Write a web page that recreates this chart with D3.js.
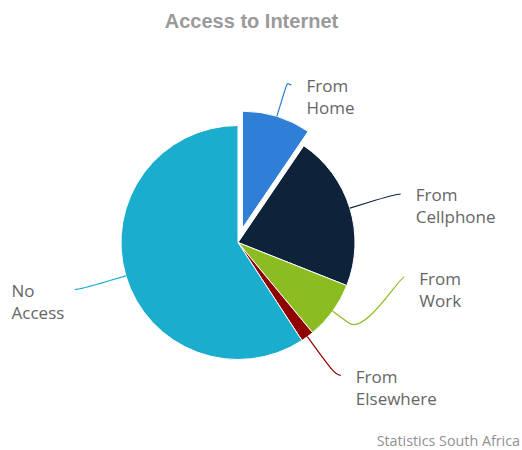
<!DOCTYPE html>
<html>
<head>
<meta charset="utf-8">
<script src="https://cdn.jsdelivr.net/npm/d3@7"></script>
<style>
  html, body { margin: 0; padding: 0; background: #fff; }
  svg { display: block; }
</style>
</head>
<body>
<div id="chart"></div>
<script>
// Household access to the internet, share of households (%)
const categories = ["From Home", "From Cellphone", "From Work", "From Elsewhere", "No Access"];
const shares = [9.5, 21.5, 8.0, 1.8, 59.2];
const sliceColors = ["#2f7ed8", "#0d233a", "#8bbc21", "#910000", "#1aadce"];
const explodedCategory = "From Home";

const chartTitle = "Access to Internet";
const creditText = "Statistics South Africa";

const width = 522, height = 450;
const cx = 238, cy = 242.5, radius = 117;
const labelDistance = 48;      // label ring beyond the pie edge
const connectorOffset = 20;    // elbow of the connector beyond the edge
const slicedOffset = 15;
const labelSlotHeight = 66.5;  // vertical slot used to keep labels apart

const svg = d3.select("#chart").append("svg")
  .attr("width", width).attr("height", height);

svg.append("text")
  .attr("x", 251.5).attr("y", 28)
  .attr("text-anchor", "middle")
  .style("font-family", "'Liberation Sans', Arial, sans-serif")
  .style("font-weight", "bold")
  .style("font-size", "20px")
  .style("fill", "#9a9a9a")
  .text(chartTitle);

const data = categories.map((name, i) => ({ name, value: shares[i], color: sliceColors[i] }));

const pie = d3.pie().sort(null).value(d => d.value);
const arc = d3.arc().innerRadius(0).outerRadius(radius);
const arcs = pie(data);

const g = svg.append("g").attr("transform", `translate(${cx},${cy})`);

arcs.forEach(a => {
  a.mid = (a.startAngle + a.endAngle) / 2;
  a.dir = [Math.sin(a.mid), -Math.cos(a.mid)];
  a.sliced = a.data.name === explodedCategory;
  a.shift = a.sliced ? [a.dir[0] * slicedOffset, a.dir[1] * slicedOffset] : [0, 0];
});

g.selectAll("path.slice")
  .data(arcs)
  .join("path")
  .attr("class", "slice")
  .attr("d", arc)
  .attr("transform", d => `translate(${d.shift[0]},${d.shift[1]})`)
  .attr("fill", d => d.data.color)
  .attr("stroke", "#fff")
  .attr("stroke-width", 1)
  .attr("stroke-linejoin", "round");

// ---- label placement: natural position on an outer ring, then slot-based de-overlap
const R = radius + labelDistance;
function getX(y, left) {
  const s = Math.max(-1, Math.min(1, (y - cy) / R));
  return cx + (left ? -1 : 1) * Math.cos(Math.asin(s)) * R;
}
arcs.forEach(a => {
  a.left = a.mid > Math.PI;
  a.naturalY = cy + a.dir[1] * R;
});

[0, 1].forEach(half => {
  const pts = arcs.filter(a => (a.left ? 1 : 0) === half);
  pts.sort((p, q) => half ? q.mid - p.mid : p.mid - q.mid);
  const slots = [];
  for (let pos = cy - R; pos <= cy + R; pos += labelSlotHeight) slots.push(pos);
  const n = slots.length, len = pts.length;
  const used = [];
  pts.forEach((p, j) => {
    let best = 9999, idx = 0;
    slots.forEach((s, k) => {
      if (s === null) return;
      const dd = Math.abs(s - p.naturalY);
      if (dd < best) { best = dd; idx = k; }
    });
    if (idx < j && slots[j] !== null) {
      idx = j;
    } else if (n < len - j + idx && slots[j] !== null) {
      idx = n - len + j;
      while (slots[idx] === null) idx++;
    } else {
      while (slots[idx] === null) idx++;
    }
    used.push({ i: idx, y: slots[idx] });
    slots[idx] = null;
  });
  used.sort((a, b) => b.y - a.y);
  pts.forEach(p => {
    const slot = used.pop();
    let y = slot.y;
    if ((p.naturalY > y && slots[slot.i + 1] !== null) ||
        (p.naturalY < y && slots[slot.i - 1] !== null)) {
      y = p.naturalY;
    }
    p.labelY = y;
    p.labelX = getX(slot.i === 0 || slot.i === n - 1 ? p.naturalY : y, p.left);
  });
});

// ---- connectors
const lg = svg.append("g");
arcs.forEach(a => {
  const ox = cx + a.shift[0], oy = cy + a.shift[1];
  const base = [ox + a.dir[0] * radius, oy + a.dir[1] * radius];
  const brk = [ox + a.dir[0] * (radius + connectorOffset), oy + a.dir[1] * (radius + connectorOffset)];
  const x = a.labelX, y = a.labelY;
  const p = d3.path();
  p.moveTo(x + (a.left ? -5 : 5), y);
  p.bezierCurveTo(x, y, 2 * brk[0] - base[0], 2 * brk[1] - base[1], brk[0], brk[1]);
  p.lineTo(base[0], base[1]);
  lg.append("path")
    .attr("d", p.toString())
    .attr("fill", "none")
    .attr("stroke", a.data.color)
    .attr("stroke-width", 1.2);
});

// ---- labels (two lines: first word, then the rest)
arcs.forEach(a => {
  const words = a.data.name.split(" ");
  const lines = [words[0], words.slice(1).join(" ")];
  const t = lg.append("text")
    .style("font-family", "'Open Sans', sans-serif")
    .style("font-size", "17px")
    .style("fill", "#666");
  lines.forEach((ln, k) => {
    t.append("tspan").attr("x", 0).attr("y", a.labelY + 7.5 + k * 22).text(ln);
  });
  const w = t.node().getBBox().width;
  const x0 = a.left ? a.labelX - 15.5 - w : a.labelX + 20;
  t.selectAll("tspan").attr("x", x0);
});

svg.append("text")
  .attr("x", 520).attr("y", 446)
  .attr("text-anchor", "end")
  .style("font-family", "'Open Sans', sans-serif")
  .style("font-size", "14.3px")
  .style("fill", "#919191")
  .text(creditText);
</script>
</body>
</html>
